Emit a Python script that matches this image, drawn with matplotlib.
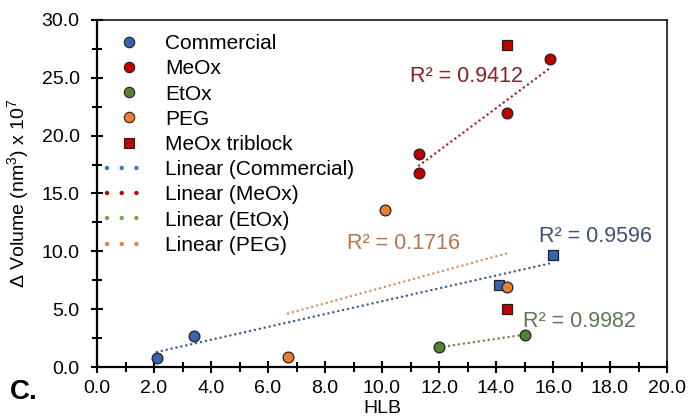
import numpy as np
import matplotlib
matplotlib.use("Agg")
import matplotlib.pyplot as plt
from matplotlib.lines import Line2D

plt.rcParams['font.family'] = ['Liberation Sans', 'DejaVu Sans']
plt.rcParams['mathtext.fontset'] = 'custom'
plt.rcParams['mathtext.rm'] = 'Liberation Sans'

# HLB vs change in volume for each surfactant family
comm_circ_hlb = [2.1, 3.4]
comm_circ_dv = [0.8, 2.7]
comm_sq_hlb = [14.1, 16.0]
comm_sq_dv = [7.1, 9.7]

meox_hlb = [11.3, 11.3, 14.4, 15.9]
meox_dv = [16.8, 18.4, 22.0, 26.6]

triblock_hlb = [14.4, 14.4]
triblock_dv = [27.8, 5.0]

etox_hlb = [12.0, 15.0]
etox_dv = [1.7, 2.8]

peg_hlb = [6.7, 10.1, 14.4]
peg_dv = [0.9, 13.6, 6.9]

r2_labels = ["R² = 0.9596", "R² = 0.9412", "R² = 0.9982", "R² = 0.1716"]

c_blue, c_red, c_green, c_orange = "#3563b0", "#c00000", "#548235", "#ed7d31"
trend_cols = ["#3a5894", "#a3192b", "#5f8a46", "#d98a5a"]
label_cols = ["#3f5078", "#8a1f24", "#5d7755", "#b8744c"]

fig = plt.figure(figsize=(6.91, 4.19), dpi=100)
ax = fig.add_axes([97/691, 1-367/419, 570/691, 347/419])

mk = dict(s=60, edgecolors="#222222", linewidths=0.9, zorder=4)
ax.scatter(comm_circ_hlb, comm_circ_dv, marker='o', color=c_blue, **mk)
ax.scatter(comm_sq_hlb, comm_sq_dv, marker='s', color=c_blue, **mk)
ax.scatter(meox_hlb, meox_dv, marker='o', color=c_red, **mk)
ax.scatter(etox_hlb, etox_dv, marker='o', color=c_green, **mk)
ax.scatter(peg_hlb, peg_dv, marker='o', color=c_orange, **mk)
ax.scatter(triblock_hlb, triblock_dv, marker='s', color=c_red, **mk)

# linear trendlines, fitted over each series' own HLB range
series = [
    (comm_circ_hlb + comm_sq_hlb, comm_circ_dv + comm_sq_dv),
    (meox_hlb, meox_dv),
    (etox_hlb, etox_dv),
    (peg_hlb, peg_dv),
]
for (xs, ys), col in zip(series, trend_cols):
    k, b = np.polyfit(xs, ys, 1)
    xx = np.array([min(xs), max(xs)])
    ax.plot(xx, k*xx + b, color=col, lw=1.8, ls=(0, (0.01, 2.0)),
            dash_capstyle='round', zorder=3)

r2_pos = [(15.5, 11.3), (11.0, 25.1), (14.95, 3.95), (8.77, 10.7)]
for txt, (x, y), col in zip(r2_labels, r2_pos, label_cols):
    ax.text(x, y, txt, color=col, fontsize=15.5, va='center', ha='left')

ax.set_xlim(0, 20)
ax.set_ylim(0, 30)
ax.set_xticks(np.arange(0, 20.1, 2))
ax.set_xticks(np.arange(0, 20.1, 1), minor=True)
ax.set_yticks(np.arange(0, 30.1, 5))
ax.set_yticks(np.arange(0, 30.1, 2.5), minor=True)
ax.set_xticklabels([f"{v:.1f}" for v in np.arange(0, 20.1, 2)])
ax.set_yticklabels([f"{v:.1f}" for v in np.arange(0, 30.1, 5)])
ax.tick_params(which='major', direction='inout', length=9, width=1.5,
               labelsize=14, colors='black', top=False, right=False)
ax.tick_params(which='minor', direction='inout', length=7, width=1.5,
               top=False, right=False)
ax.tick_params(axis='y', which='major', pad=8)
ax.tick_params(axis='x', which='major', pad=5)

for s in ['left', 'bottom']:
    ax.spines[s].set_linewidth(1.6)
for s in ['top', 'right']:
    ax.spines[s].set_linewidth(1.1)

ax.set_xlabel("HLB", fontsize=14, labelpad=2)
ax.set_ylabel(r"Δ Volume (nm$^{3}$) x 10$^{7}$", fontsize=14, labelpad=7)

handles = [
    Line2D([], [], ls='none', marker='o', ms=7.5, mfc=c_blue, mec='#222222', mew=0.8),
    Line2D([], [], ls='none', marker='o', ms=7.5, mfc=c_red, mec='#222222', mew=0.8),
    Line2D([], [], ls='none', marker='o', ms=7.5, mfc=c_green, mec='#222222', mew=0.8),
    Line2D([], [], ls='none', marker='o', ms=7.5, mfc=c_orange, mec='#222222', mew=0.8),
    Line2D([], [], ls='none', marker='s', ms=7.5, mfc=c_red, mec='#222222', mew=0.8),
]
for col in ["#4472c4", "#c00000", "#70ad47", "#ed7d31"]:
    handles.append(Line2D([], [], color=col, lw=3.2, ls=(0, (0.01, 3.3)),
                          dash_capstyle='round'))
labels = ["Commercial", "MeOx", "EtOx", "PEG", "MeOx triblock",
          "Linear (Commercial)", "Linear (MeOx)", "Linear (EtOx)", "Linear (PEG)"]
ax.legend(handles, labels, loc='upper left', frameon=False, fontsize=15,
          bbox_to_anchor=(107/691, 1-34/419), bbox_transform=fig.transFigure,
          borderaxespad=0, borderpad=0, handlelength=2.1, handletextpad=0.7,
          labelspacing=0.3)

fig.text(10/691, 1-392/419, "C.", fontsize=20, fontweight='bold', va='center', ha='left')

fig.savefig("out.png", dpi=100)
